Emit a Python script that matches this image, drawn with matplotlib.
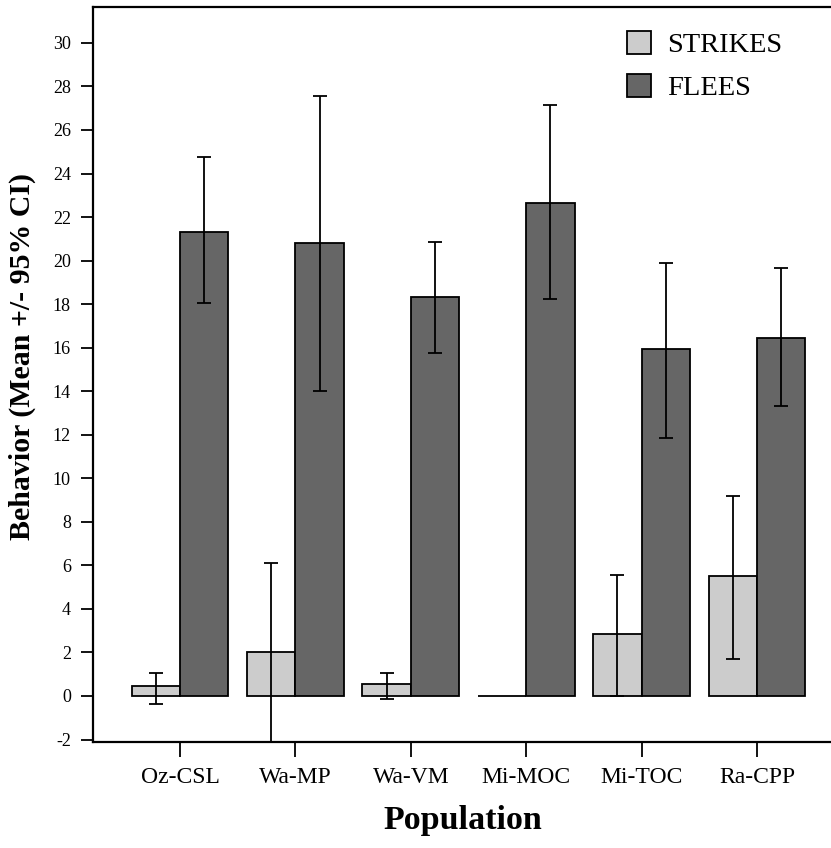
import matplotlib
matplotlib.use("Agg")
import matplotlib.pyplot as plt
from matplotlib.patches import Patch
import numpy as np

plt.rcParams["axes.unicode_minus"] = False

# data
populations = ["Oz-CSL", "Wa-MP", "Wa-VM", "Mi-MOC", "Mi-TOC", "Ra-CPP"]
strikes = [0.46, 2.03, 0.54, 0.0, 2.85, 5.51]
strikes_lo = [-0.35, -2.2, -0.15, None, 0.0, 1.69]
strikes_hi = [1.07, 6.09, 1.07, None, 5.56, 9.19]
flees = [21.33, 20.79, 18.33, 22.66, 15.93, 16.43]
flees_lo = [18.05, 14.0, 15.76, 18.22, 11.84, 13.34]
flees_hi = [24.74, 27.56, 20.85, 27.15, 19.87, 19.64]
yticks = list(range(-2, 31, 2))

serif = ["Liberation Serif", "DejaVu Serif"]
light = "#cccccc"
dark = "#666666"

fig = plt.figure(figsize=(8.31, 8.48), dpi=100)
ax = fig.add_axes([93 / 831, 106 / 848, 738 / 831, 735 / 848])

x = np.arange(len(populations))
w = 0.42
ax.bar(x - w / 2, strikes, w, color=light, edgecolor="black", linewidth=1.3, zorder=2)
ax.bar(x + w / 2, flees, w, color=dark, edgecolor="black", linewidth=1.3, zorder=2)

def draw_ci(xs, means, lo, hi):
    for xi, m, l, h in zip(xs, means, lo, hi):
        if l is None:
            continue
        ax.errorbar(xi, m, yerr=[[m - l], [h - m]], fmt="none", ecolor="black",
                    elinewidth=1.3, capsize=5, capthick=1.3, zorder=3)

draw_ci(x - w / 2, strikes, strikes_lo, strikes_hi)
draw_ci(x + w / 2, flees, flees_lo, flees_hi)

ax.set_xlim((93 - 180) / 115.4, (831 - 180) / 115.4)
ax.set_ylim((696 - 742) / 21.77, (696 - 7) / 21.77)
ax.set_yticks(yticks)
ax.set_xticks(x)
ax.set_xticklabels(populations, fontfamily=serif, fontsize=17)
for lab in ax.get_yticklabels():
    lab.set_fontfamily(serif)
    lab.set_fontsize(13)
ax.tick_params(axis="y", length=9, width=1.3, pad=7)
ax.tick_params(axis="x", length=11, width=1.3, pad=7)
for s in ["left", "bottom", "top"]:
    ax.spines[s].set_linewidth(1.6)
ax.spines["right"].set_visible(False)

fig.text(22 / 831, 1 - 357 / 848, "Behavior (Mean +/- 95% CI)", rotation=90,
         ha="center", va="center", fontfamily=serif, fontweight="bold", fontsize=21.5)
fig.text(463 / 831, 1 - 821 / 848, "Population", ha="center", va="center",
         fontfamily=serif, fontweight="bold", fontsize=24.5)

handles = [Patch(facecolor=light, edgecolor="black", linewidth=1.3, label="STRIKES"),
           Patch(facecolor=dark, edgecolor="black", linewidth=1.3, label="FLEES")]
fig.legend(handles=handles, loc="upper left", bbox_to_anchor=(627 / 831, 1 - 31 / 848),
           frameon=False, borderpad=0, borderaxespad=0, handlelength=0.85,
           handleheight=0.85, handletextpad=0.55, labelspacing=0.55,
           prop={"family": serif, "size": 20.5})

fig.savefig("out.png", dpi=100)
